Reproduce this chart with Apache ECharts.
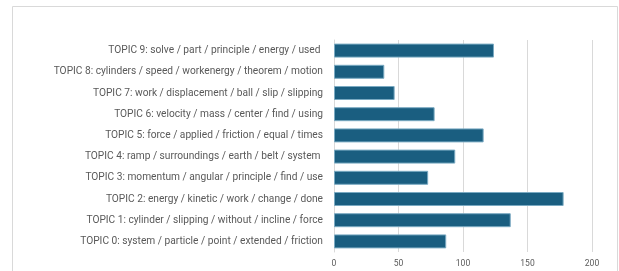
<!DOCTYPE html>
<html>
<head>
<meta charset="utf-8">
<script src="https://cdn.jsdelivr.net/npm/echarts@6/dist/echarts.min.js"></script>
<style>
  html, body { margin: 0; padding: 0; background: #fff; }
  #chart { width: 619px; height: 271px; }
</style>
</head>
<body>
<div id="chart"></div>
<script>
// 数据
const topics = [
  "TOPIC 0: system / particle / point / extended / friction",
  "TOPIC 1: cylinder / slipping / without / incline / force",
  "TOPIC 2: energy / kinetic / work / change / done",
  "TOPIC 3: momentum / angular / principle / find / use",
  "TOPIC 4: ramp / surroundings / earth / belt / system ",
  "TOPIC 5: force / applied / friction / equal / times",
  "TOPIC 6: velocity / mass / center / find / using",
  "TOPIC 7: work / displacement / ball / slip / slipping",
  "TOPIC 8: cylinders / speed / workenergy / theorem / motion",
  "TOPIC 9: solve / part / principle / energy / used "
];
const counts = [87, 137, 178, 73, 94, 116, 78, 47, 39, 124];
const xTicks = [0, 50, 100, 150, 200];

const chart = echarts.init(document.getElementById("chart"));
chart.setOption({
  animation: false,
  grid: { left: 334, right: 27, top: 40, bottom: 19 },
  graphic: [{
    type: "rect",
    shape: { x: 12.5, y: 6.5, width: 605, height: 300 },
    style: { fill: "none", stroke: "#d9d9d9", lineWidth: 1 },
    silent: true
  }],
  xAxis: {
    type: "value",
    min: xTicks[0],
    max: xTicks[xTicks.length - 1],
    interval: 50,
    axisLine: { show: false },
    axisTick: { show: false },
    splitLine: { lineStyle: { color: "#d9d9d9", width: 1 } },
    axisLabel: { color: "#595959", fontSize: 8.5, fontFamily: "Roboto", margin: 7 }
  },
  yAxis: {
    type: "category",
    data: topics,
    axisLine: { show: true, lineStyle: { color: "#d9d9d9" } },
    axisTick: { show: false },
    axisLabel: { color: "#595959", fontSize: 10.2, fontFamily: "Roboto", margin: 11 }
  },
  series: [{
    type: "bar",
    data: counts,
    barCategoryGap: "34%",
    itemStyle: { color: "#1a5e80", borderColor: "#7aaac2", borderWidth: 1 }
  }]
});
</script>
</body>
</html>
